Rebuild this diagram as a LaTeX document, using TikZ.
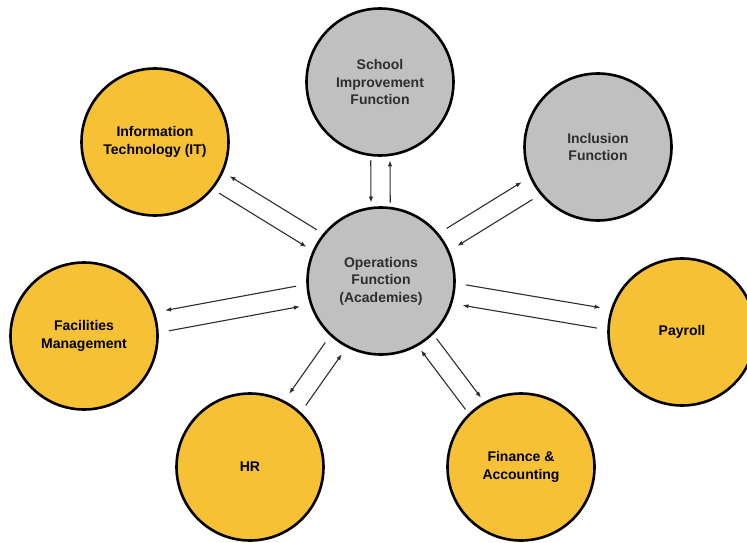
\documentclass[tikz,border=0pt]{standalone}
\usepackage{fontspec}
\setmainfont{Liberation Sans}
\usetikzlibrary{positioning,calc,arrows.meta}
\definecolor{unitgold}{RGB}{246,193,52}
\definecolor{unitgrey}{RGB}{192,192,192}
\definecolor{linkgrey}{RGB}{45,45,45}

\begin{document}
\begin{tikzpicture}[x=1pt,y=1pt,
    unit/.style={circle, draw=black, line width=2.6pt, minimum size=147pt, inner sep=0pt,
        align=center, font=\fontsize{14}{17.5}\selectfont\bfseries},
    core/.style={unit, fill=unitgrey, text=black!82},
    support/.style={unit, fill=unitgold, text=black},
    link/.style={-{Latex[length=6pt,width=4.5pt]}, line width=1.1pt, draw=linkgrey}]
    \useasboundingbox (0,0) rectangle (747,542);
    \clip (0,0) rectangle (747,542);

    % academic functions (grey)
    \node [core] (ops) at (381,261) {Operations\\Function\\(Academies)};
    \node [core] (school) at (380,460) {School\\Improvement\\Function};
    \node [core] (incl) at (598,395) {Inclusion\\Function};

    % support functions (gold)
    \node [support] (it) at (155,400) {Information\\Technology (IT)};
    \node [support] (fac) at (84,206) {Facilities\\Management};
    \node [support] (pay) at (682,210) {Payroll};
    \node [support] (hr) at (250,75) {HR};
    \node [support] (fin) at (521,75) {Finance \&\\Accounting};

    % one arrow each way between ops and every other function
    \foreach \fn/\gap/\rot/\tor in {school/79pt/-7/7, incl/84pt/7/-7, pay/85pt/7/-7,
            fin/80pt/7/-7, hr/83pt/-7/7, fac/85pt/-7/7, it/82pt/-7/7} {
        \draw [link] ($(ops)!\gap!\rot:(\fn)$) -- ($(\fn)!\gap!\tor:(ops)$);
        \draw [link] ($(\fn)!\gap!\rot:(ops)$) -- ($(ops)!\gap!\tor:(\fn)$);
    }
\end{tikzpicture}
\end{document}
